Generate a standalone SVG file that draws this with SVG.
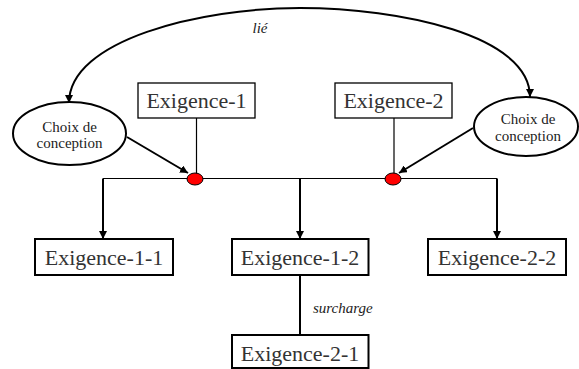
<svg xmlns="http://www.w3.org/2000/svg" width="579" height="369" viewBox="0 0 579 369">
<style>
.box{fill:#fff;stroke:#000;stroke-width:1.3}
.boxb{fill:#fff;stroke:#000;stroke-width:2}
.lbl{font-size:22px;fill:#333;text-anchor:middle}
.small{font-size:15px;fill:#222;text-anchor:middle}
.it{font-size:15px;font-style:italic;fill:#222}
.ell{fill:#fff;stroke:#000;stroke-width:2}
.thin{stroke:#000;stroke-width:1.2;fill:none}
.thick{stroke:#000;stroke-width:2;fill:none}
.dot{fill:#f00;stroke:#000;stroke-width:1}
</style>
<defs>
<marker id="ah" markerWidth="8" markerHeight="8" viewBox="0 0 10 10" refX="10" refY="5" orient="auto" markerUnits="userSpaceOnUse">
<path d="M0,0 L10,5 L0,10 z" fill="#000"/>
</marker>
</defs>
<g font-family="'Liberation Serif', 'Times New Roman', 'DejaVu Serif', serif">
<g id="connectors">
<path class="thick" d="M300,8 C200,8 69,40 69,103" marker-end="url(#ah)"/>
<path class="thick" d="M300,8 C400,8 530,35 530,97" marker-end="url(#ah)"/>
<line class="thin" x1="196.5" y1="118" x2="196.5" y2="178"/>
<line class="thin" x1="394" y1="118" x2="394" y2="178"/>
<line class="thick" x1="127" y1="137" x2="188" y2="173" marker-end="url(#ah)"/>
<line class="thick" x1="473" y1="128" x2="399" y2="173" marker-end="url(#ah)"/>
<polyline class="thin" points="103,178.5 497,178.5"/>
<line class="thick" x1="103" y1="178.5" x2="103" y2="239" marker-end="url(#ah)"/>
<line class="thick" x1="300" y1="178.5" x2="300" y2="239" marker-end="url(#ah)"/>
<line class="thick" x1="497" y1="178.5" x2="497" y2="239" marker-end="url(#ah)"/>
<line class="thick" x1="300" y1="275" x2="300" y2="335"/>
<text class="it" x="260" y="33" text-anchor="middle">lié</text>
<text class="it" x="313" y="313">surcharge</text>
</g>
<g id="dot1"><ellipse class="dot" cx="195" cy="179" rx="8" ry="6"/></g>
<g id="dot2"><ellipse class="dot" cx="393" cy="179" rx="8" ry="6"/></g>
<g id="choix1">
<ellipse class="ell" cx="69.5" cy="133.5" rx="56.5" ry="31.5"/>
<text class="small" x="69.5" y="132">Choix de</text>
<text class="small" x="69.5" y="148">conception</text>
</g>
<g id="choix2">
<ellipse class="ell" cx="526" cy="126.5" rx="52" ry="29.5"/>
<text class="small" x="528" y="124">Choix de</text>
<text class="small" x="528" y="141">conception</text>
</g>
<g id="exig1">
<rect class="box" x="138" y="83" width="117" height="35"/>
<text class="lbl" x="196.5" y="108">Exigence-1</text>
</g>
<g id="exig2">
<rect class="box" x="335" y="83" width="117" height="35"/>
<text class="lbl" x="393.5" y="108">Exigence-2</text>
</g>
<g id="exig11">
<rect class="boxb" x="35" y="239" width="138" height="36"/>
<text class="lbl" x="104" y="265">Exigence-1-1</text>
</g>
<g id="exig12">
<rect class="boxb" x="232" y="239" width="136.5" height="36"/>
<text class="lbl" x="300" y="265">Exigence-1-2</text>
</g>
<g id="exig22">
<rect class="boxb" x="428" y="239" width="138" height="36"/>
<text class="lbl" x="497" y="265">Exigence-2-2</text>
</g>
<g id="exig21">
<rect class="boxb" x="232" y="335" width="136.5" height="33"/>
<text class="lbl" x="300" y="361">Exigence-2-1</text>
</g>
</g>
</svg>
